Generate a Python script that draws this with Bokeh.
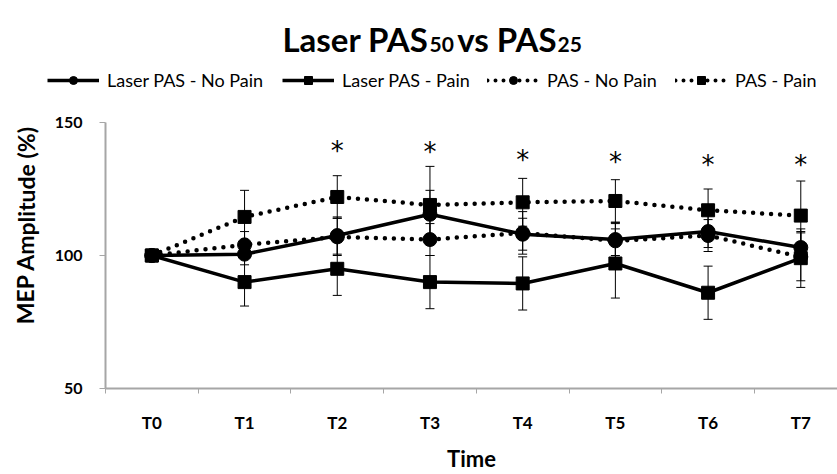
from bokeh.plotting import figure
from bokeh.layouts import row
from bokeh.models import (ColumnDataSource, Range1d, FixedTicker, Whisker, TeeHead,
                          Legend, LegendItem, Label)
from bokeh.core.properties import value
from bokeh.embed import file_html
from bokeh.resources import INLINE

# ---------------- data ----------------
categories = ["T0", "T1", "T2", "T3", "T4", "T5", "T6", "T7"]
laser_nopain = [100, 100.5, 107.5, 115.5, 108, 106, 109, 103]
laser_nopain_err = [0, 4, 7, 9, 6, 6, 6, 6]
laser_pain = [100, 90, 95, 90, 89.5, 97, 86, 99]
laser_pain_err = [0, 9, 10, 10, 10, 13, 10, 11]
pas_nopain = [100, 104, 107, 106, 108.5, 105.5, 107.5, 99.5]
pas_nopain_err = [0, 5, 7, 6, 8, 7, 6, 9]
pas_pain = [100, 114.5, 122, 119, 120, 120.5, 117, 115]
pas_pain_err = [0, 10, 8, 14.5, 9, 8, 8, 13]
star_cats = ["T2", "T3", "T4", "T5", "T6", "T7"]
star_y = [142.4, 142.1, 138.9, 138, 137, 137]
y_ticks = [50, 100, 150]
series_names = ["Laser PAS - No Pain", "Laser PAS - Pain", "PAS - No Pain", "PAS - Pain"]
series_dash = ["solid", "solid", "dot", "dot"]
series_marker = ["circle", "square", "circle", "square"]

FONT = "Lato"
AX = "#a6a6a6"
W = 837
HEAD_H = 100
YL_W = 45

xs = list(range(len(categories)))

def bare(width, height, xr, yr, **kw):
    f = figure(width=width, height=height, output_backend="svg", toolbar_location=None,
               x_range=xr, y_range=yr, x_axis_type=None, y_axis_type=None, **kw)
    f.outline_line_color = None
    f.grid.visible = False
    return f

# ---------------- header (title + legend) ----------------
h = bare(W, HEAD_H, Range1d(0, W), Range1d(0, HEAD_H),
         min_border_left=0, min_border_right=0, min_border_top=0, min_border_bottom=0)

def lab(fig, text, x, y, size, **kw):
    fig.add_layout(Label(x=x, y=y, text=text, text_font=FONT, text_font_style="bold",
                         text_font_size=size, text_color="black", **kw))

lab(h, "Laser PAS", 428, HEAD_H - 38, "33px", text_align="right", text_baseline="alphabetic")
lab(h, "50", 429, HEAD_H - 44, "21px", text_align="left", text_baseline="alphabetic")
lab(h, "vs PAS", 556, HEAD_H - 38, "33px", text_align="right", text_baseline="alphabetic")
lab(h, "25", 557, HEAD_H - 44, "21px", text_align="left", text_baseline="alphabetic")

leg_x = [47, 282, 487, 675]
for name, dash, mk, lx in zip(series_names, series_dash, series_marker, leg_x):
    if dash == "solid":
        ln = h.line([-100, -90], [-100, -100], line_color="black", line_width=3.5)
    else:
        ln = h.line([-100, -90], [-100, -100], line_color="black", line_width=4,
                    line_dash="0 8", line_cap="round")
    sc = h.scatter([-100], [-100], marker=mk, size=11, fill_color="black", line_color="black")
    lg = Legend(items=[LegendItem(label=name, renderers=[ln, sc])],
                location=(lx, HEAD_H - 80.7 - 10), orientation="horizontal",
                glyph_width=52, glyph_height=20, label_standoff=8,
                padding=0, margin=0, border_line_color=None,
                background_fill_alpha=0,
                label_text_font=FONT, label_text_font_size="18px",
                label_text_color="black")
    h.add_layout(lg)

# ---------------- main chart ----------------
TOP = 122 - HEAD_H
BOT = 474 - 393
MAIN_H = 474 - HEAD_H

# narrow strip holding the y-axis title
yl = bare(YL_W, MAIN_H, Range1d(0, YL_W), Range1d(50, 150),
          min_border_left=0, min_border_right=0, min_border_top=TOP, min_border_bottom=BOT)
yl.add_layout(Label(x=25, y=111.5, text="MEP Amplitude (%)", angle=1.5707963,
                    text_align="center", text_baseline="middle", text_font=FONT,
                    text_font_style="bold", text_font_size="23px", text_color="black"))

p = figure(width=W - YL_W, height=MAIN_H, output_backend="svg", toolbar_location=None,
           x_range=Range1d(-0.5, 7.396), y_range=Range1d(50, 150),
           min_border_left=105 - YL_W, min_border_right=0, min_border_top=TOP,
           min_border_bottom=BOT)
p.outline_line_color = None
p.grid.visible = False

p.xaxis.ticker = FixedTicker(ticks=xs, minor_ticks=[i - 0.5 for i in xs])
p.xaxis.major_label_overrides = {i: c for i, c in enumerate(categories)}
p.xaxis.major_tick_out = 0
p.xaxis.major_tick_in = 0
p.xaxis.minor_tick_out = 5
p.xaxis.minor_tick_in = 0
p.xaxis.minor_tick_line_color = AX
p.xaxis.axis_line_color = AX
p.xaxis.axis_line_width = 2
p.xaxis.major_label_standoff = 18
p.xaxis.major_label_text_font = FONT
p.xaxis.major_label_text_font_style = "bold"
p.xaxis.major_label_text_font_size = "17px"
p.xaxis.major_label_text_color = "black"
p.xaxis.axis_label = "Time"
p.xaxis.axis_label_standoff = 9
p.xaxis.axis_label_text_font = FONT
p.xaxis.axis_label_text_font_style = "bold"
p.xaxis.axis_label_text_font_size = "22px"
p.xaxis.axis_label_text_color = "black"

p.yaxis.ticker = FixedTicker(ticks=y_ticks, minor_ticks=[])
p.yaxis.major_tick_out = 6
p.yaxis.major_tick_in = 0
p.yaxis.major_tick_line_color = AX
p.yaxis.axis_line_color = AX
p.yaxis.axis_line_width = 2
p.yaxis.major_label_standoff = 17
p.yaxis.major_label_text_font = FONT
p.yaxis.major_label_text_font_style = "bold"
p.yaxis.major_label_text_font_size = "16px"
p.yaxis.major_label_text_color = "black"

def add_series(vals, errs, dash, marker, size):
    src = ColumnDataSource(dict(x=xs, y=vals,
                                upper=[v + e for v, e in zip(vals, errs)],
                                lower=[v - e for v, e in zip(vals, errs)]))
    w = Whisker(source=src, base="x", upper="upper", lower="lower",
                line_color="black", line_width=1,
                upper_head=TeeHead(size=9, line_width=1, line_color="black"),
                lower_head=TeeHead(size=9, line_width=1, line_color="black"))
    p.add_layout(w)
    if dash == "solid":
        p.line("x", "y", source=src, line_color="black", line_width=3.5)
    else:
        p.line("x", "y", source=src, line_color="black", line_width=4.5,
               line_dash="0 9", line_cap="round")
    p.scatter("x", "y", source=src, marker=marker, size=size,
              fill_color="black", line_color="black")

add_series(laser_nopain, laser_nopain_err, "solid", "circle", 14)
add_series(laser_pain, laser_pain_err, "solid", "square", 13)
add_series(pas_nopain, pas_nopain_err, "dot", "circle", 14)
add_series(pas_pain, pas_pain_err, "dot", "square", 13)

star_src = ColumnDataSource(dict(x=[categories.index(c) for c in star_cats], y=star_y,
                                 t=["*"] * len(star_cats)))
p.text("x", "y", text="t", source=star_src, text_align="center", text_baseline="middle",
       text_font=value("DejaVu Sans"), text_font_size="26px", text_color="black",
       y_offset=8)

open("out.html", "w").write(file_html([h, row(yl, p, spacing=0)], INLINE))
